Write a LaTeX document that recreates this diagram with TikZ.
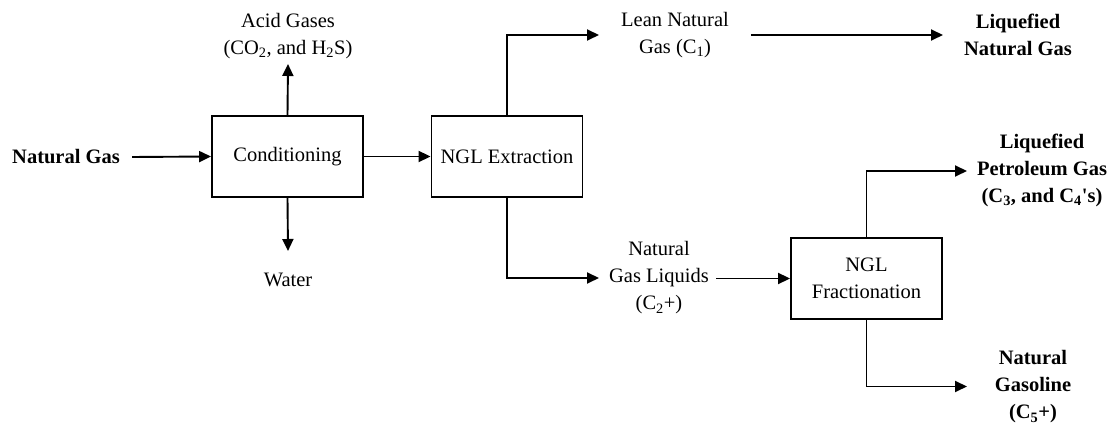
\documentclass[tikz,border=0pt]{standalone}
\usepackage{fontspec}
\setmainfont{Liberation Serif}
\usetikzlibrary{arrows.meta}
\begin{document}
\begin{tikzpicture}[x=1pt,y=-1pt,
  every node/.style={font=\fontsize{20.5}{27}\selectfont},
  proc/.style={draw, line width=1.9pt, minimum width=151pt, minimum height=81pt, align=center, inner sep=0pt},
  lbl/.style={align=center, inner sep=0pt},
  flow/.style={line width=1.9pt, -{Triangle[length=12pt,width=11pt]}}]
\useasboundingbox (0,0) rectangle (1112,427);
% process boxes
\node[proc] (cond) at (287.5,156.5) {Conditioning};
\node[proc] (ext) at (507,156.5) {NGL Extraction};
\node[proc] (frac) at (866.5,278.5) {NGL\\Fractionation};
% labels
\node[lbl, anchor=west] (ng) at (12,157) {\textbf{Natural Gas}};
\node[lbl] (acid) at (288,36) {Acid Gases\\(CO\textsubscript{2}, and H\textsubscript{2}S)};
\node[lbl] (water) at (288,280) {Water};
\node[lbl] (lean) at (675,35) {Lean Natural\\Gas (C\textsubscript{1})};
\node[lbl] (lng) at (1018,35) {\textbf{Liquefied}\\\textbf{Natural Gas}};
\node[lbl] (ngl) at (659,278) {Natural\\Gas Liquids\\(C\textsubscript{2}+)};
\node[lbl] (lpg) at (1042,170) {\textbf{Liquefied}\\\textbf{Petroleum Gas}\\\textbf{(C\textsubscript{3}, and C\textsubscript{4}\textquotesingle s)}};
\node[lbl] (gas) at (1033,387) {\textbf{Natural}\\\textbf{Gasoline}\\\textbf{(C\textsubscript{5}+)}};
% arrow tips
\coordinate (acidtip) at (288,64);
\coordinate (watertip) at (288,251);
\coordinate (leantip) at (599,35);
\coordinate (lngtip) at (943,35);
\coordinate (ngltip) at (599,278);
\coordinate (lpgtip) at (967,171);
\coordinate (gastip) at (967,386.5);
% connectors
\draw[flow] ([xshift=12pt]ng.east) -- (cond.west);
\draw[flow] (cond.north) -- (acidtip);
\draw[flow] (cond.south) -- (watertip);
\draw[flow] (cond.east) -- (ext.west);
\draw[flow] (ext.north) |- (leantip);
\draw[flow] ([xshift=22pt]lean.east |- lngtip) -- (lngtip);
\draw[flow] (ext.south) |- (ngltip);
\draw[flow] ([xshift=7pt]ngl.east |- frac.west) -- (frac.west);
\draw[flow] (frac.north) |- (lpgtip);
\draw[flow] (frac.south) |- (gastip);
\end{tikzpicture}
\end{document}
